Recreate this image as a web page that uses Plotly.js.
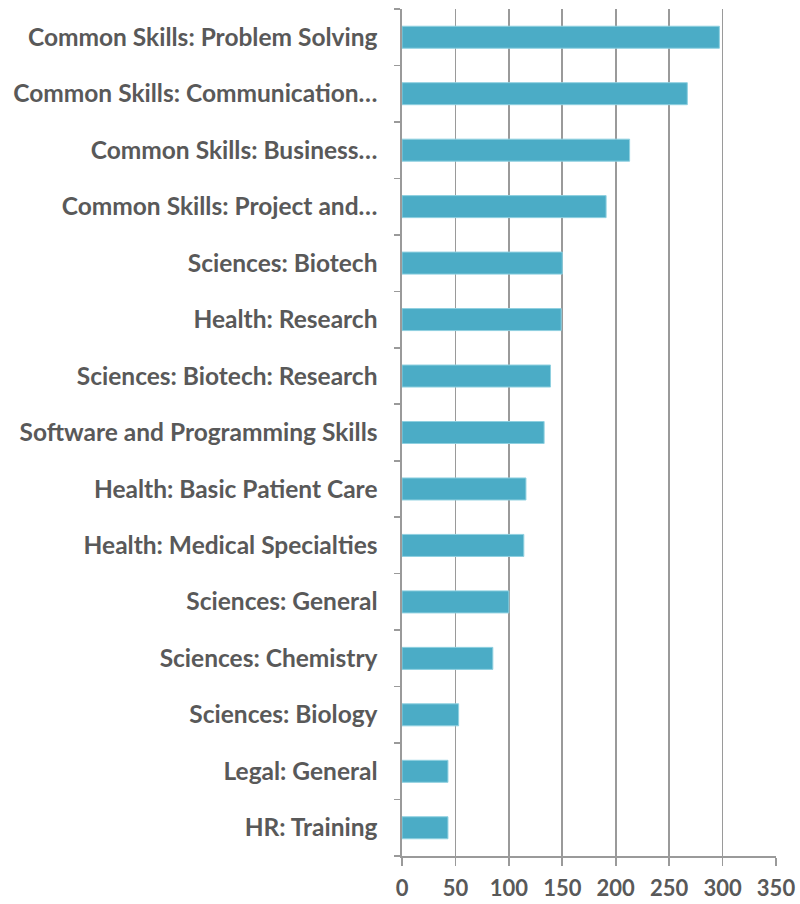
<!DOCTYPE html>
<html><head><meta charset="utf-8">
<script src="https://cdn.plot.ly/plotly-3.0.1.min.js"></script>
<style>html,body{margin:0;padding:0;background:#fff}#chart{width:800px;height:904px}</style>
</head><body><div id="chart"></div>
<script>
const categories = [
  "Common Skills: Problem Solving",
  "Common Skills: Communication…",
  "Common Skills: Business…",
  "Common Skills: Project and…",
  "Sciences: Biotech",
  "Health: Research",
  "Sciences: Biotech: Research",
  "Software and Programming Skills",
  "Health: Basic Patient Care",
  "Health: Medical Specialties",
  "Sciences: General",
  "Sciences: Chemistry",
  "Sciences: Biology",
  "Legal: General",
  "HR: Training"
];
const values = [297, 267, 213, 191, 150, 149, 139, 133, 116, 114, 100, 85, 53, 43, 43];
const xTicks = [0, 50, 100, 150, 200, 250, 300, 350];

const FONT = "Lato, 'Open Sans', sans-serif";
const trace = {
  type: "bar", orientation: "h",
  y: categories.slice().reverse(),
  x: values.slice().reverse(),
  marker: {color: "#4BACC6", line: {color: "#8fd0e0", width: 1}},
  width: 0.39,
  hoverinfo: "x+y"
};
const layout = {
  width: 800, height: 904,
  margin: {l: 402, r: 24, t: 9, b: 48},
  paper_bgcolor: "#fff", plot_bgcolor: "#fff",
  showlegend: false,
  font: {family: FONT, color: "#595959"},
  xaxis: {
    range: [0, 350], tickvals: xTicks, ticktext: xTicks.map(String),
    showgrid: true, gridcolor: "#9a9a9a", gridwidth: 1.6,
    showline: true, linecolor: "#9a9a9a", linewidth: 1.6,
    ticks: "outside", ticklen: 8, tickcolor: "#9a9a9a", tickwidth: 1.6,
    ticklabelstandoff: 4,
    tickfont: {family: FONT, size: 22, color: "#595959", weight: "bold"},
    zeroline: false, fixedrange: true
  },
  yaxis: {
    type: "category", categoryorder: "array", categoryarray: categories.slice().reverse(),
    showgrid: false, showline: true, linecolor: "#9a9a9a", linewidth: 1.6,
    ticks: "outside", tickson: "boundaries", ticklen: 6, tickcolor: "#9a9a9a", tickwidth: 1.6,
    ticklabelstandoff: 18,
    tickfont: {family: FONT, size: 24.5, color: "#595959", weight: "bold"},
    fixedrange: true
  }
};
Plotly.newPlot("chart", [trace], layout, {displayModeBar: false, staticPlot: true});
</script></body></html>
